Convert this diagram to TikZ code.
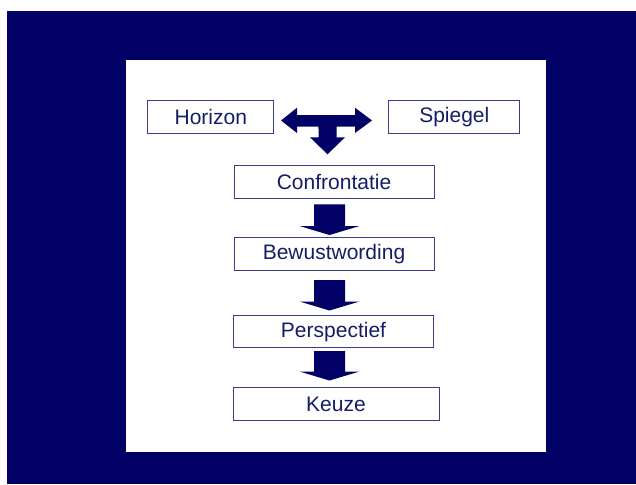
\documentclass[tikz,border=0pt]{standalone}
\usepackage{fontspec}
\setmainfont{Liberation Sans}
\definecolor{navybg}{RGB}{0,0,102}
\definecolor{boxline}{RGB}{60,60,140}
\definecolor{txt}{RGB}{20,30,100}
\tikzset{
  lbl/.style={draw=boxline, line width=1pt, fill=white, text=txt, inner sep=0pt,
    font=\fontsize{21}{24}\selectfont, anchor=center},
  arr/.style={fill=navybg}
}
\newcommand\dnarrow[3]{% x center, top y, tip y
  \fill[arr] (#1-15.5,#2) -- (#1+15.5,#2) -- (#1+15.5,#3-9) -- (#1+30,#3-9) -- (#1,#3)
    -- (#1-30,#3-9) -- (#1-15.5,#3-9) -- cycle;}
\begin{document}
\begin{tikzpicture}[x=1pt,y=-1pt]
\useasboundingbox (0,0) rectangle (636,484);
\fill[navybg] (7,11) rectangle (636,484);
\fill[white] (126,60) rectangle (546,452);
\node[lbl, minimum width=125.7pt, minimum height=33pt] (hor) at (210.8,116.8) {Horizon};
\node[lbl, minimum width=131.3pt, minimum height=33pt] (spi) at (454.3,116.7) {Spiegel};
\node[lbl, minimum width=200pt, minimum height=33pt] (con) at (334,181.8) {Confrontatie};
\node[lbl, minimum width=200pt, minimum height=33pt] (bew) at (334,254.2) {Bewustwording};
\node[lbl, minimum width=200.4pt, minimum height=32pt] (per) at (333.5,331.7) {Perspectief};
\node[lbl, minimum width=206pt, minimum height=33pt] (keu) at (336,404.2) {Keuze};
% T arrow: horizontal double arrow
\fill[arr] (281,120.5) -- (297,107.7) -- (297,115) -- (355,115) -- (355,107.7) -- (372,120.5)
  -- (355,133) -- (355,126.5) -- (297,126.5) -- (297,133) -- cycle;
% T arrow: downward stem with smooth junction
\fill[arr] (312,120) -- (342,120)
  .. controls (337,122) and (336.5,124) .. (336.5,129) -- (336.5,137.3) -- (345,137.3) -- (327.5,154.3)
  -- (310,137.3) -- (318.5,137.3) -- (318.5,129) .. controls (318.5,124) and (318,122) .. (312,120) -- cycle;
\dnarrow{329.5}{204.3}{235}
\dnarrow{329.5}{280}{310.5}
\dnarrow{329.5}{351}{380.5}
\end{tikzpicture}
\end{document}
